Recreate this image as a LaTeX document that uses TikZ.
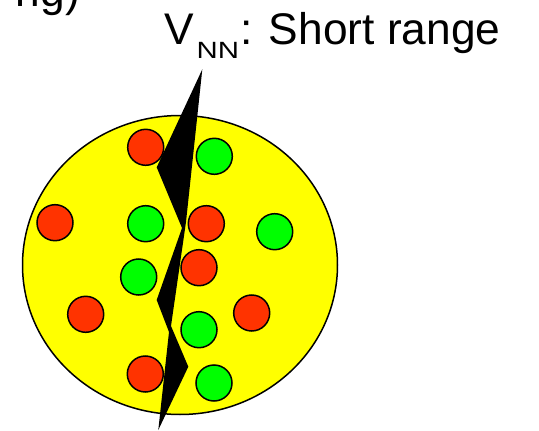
\documentclass[tikz,border=0pt]{standalone}
\usepackage{fontspec}
\setmainfont{Liberation Sans}
\usepackage{tikz}
\usetikzlibrary{positioning}
\definecolor{nucyellow}{RGB}{255,255,0}
\definecolor{protonred}{RGB}{255,51,0}
\definecolor{neutrongreen}{RGB}{0,255,0}

\begin{document}
\begin{tikzpicture}[x=1pt, y=-1pt, font=\fontsize{44.3}{50}\selectfont,
    nucleon/.style={draw=black, line width=1.5pt}]
  \useasboundingbox (0,0) rectangle (539,431);
  % Nucleus
  \draw[fill=nucyellow, line width=1.5pt] (180,265) ellipse [x radius=157.5pt, y radius=149.5pt];
  % Nucleons
  \foreach \x/\y/\c in {145.7/147.3/protonred, 214.3/156.3/neutrongreen,
      55/222.7/protonred, 145.7/223.7/neutrongreen, 206.3/223.7/protonred,
      274.7/231.7/neutrongreen, 138.7/277/neutrongreen, 199/267.7/protonred,
      85.7/314.3/protonred, 251.7/313/protonred, 199/329.7/neutrongreen,
      145.3/374/protonred, 214/383/neutrongreen}{
    \draw[nucleon, fill=\c] (\x,\y) circle (18pt);
  }
  % Short range bolt
  \fill[black] (202.3,69.3) -- (186,222) -- (171,326) -- (188.3,366.7)
    -- (158.3,430) -- (169,332) -- (156.7,300) -- (182,228)
    -- (156.7,167.3) -- cycle;
  % Labels
  \node[anchor=base west, inner sep=0pt] (vnn) at (164,45)
    {V\kern3pt\raisebox{-13.3pt}{\scalebox{1.25}[1]{\fontsize{23.5}{25}\selectfont NN}}\kern1pt: Short range};
  \node[anchor=base east, inner sep=0pt] (cut) at (80,6) {ng)};
\end{tikzpicture}
\end{document}
